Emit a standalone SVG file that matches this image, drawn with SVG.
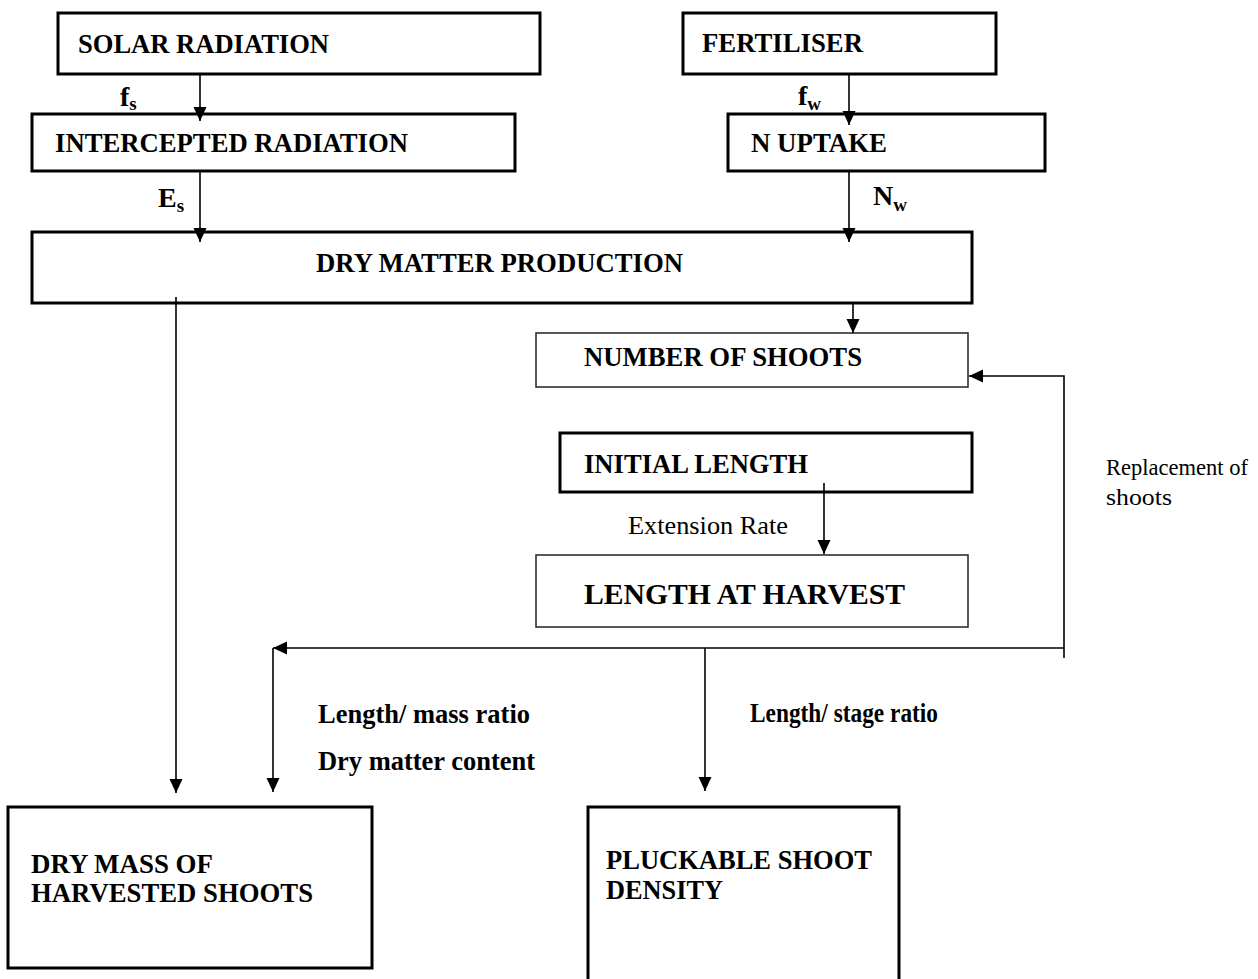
<svg xmlns="http://www.w3.org/2000/svg" width="1258" height="979" viewBox="0 0 1258 979">
<defs>
<marker id="ah" markerUnits="userSpaceOnUse" markerWidth="14" markerHeight="16" refX="14" refY="6.5" orient="auto">
<path d="M0,0 L14,6.5 L0,13 Z" fill="#000"/>
</marker>
<style>
.box{fill:#fff;stroke:#000;stroke-width:3}
.thin{fill:#fff;stroke:#222;stroke-width:1.5}
.t{font-family:"Liberation Serif","Times New Roman",serif;font-weight:bold;font-size:28px;fill:#000}
.l{font-family:"Liberation Serif","Times New Roman",serif;font-weight:bold;font-size:27px;fill:#000}
.r{font-family:"Liberation Serif","Times New Roman",serif;font-size:26px;fill:#000}
.sub{font-size:19px}
.c{fill:none;stroke:#000;stroke-width:1.6}
</style>
</defs>
<rect width="1258" height="979" fill="#fff"/>
<g id="solar"><rect class="box" x="58" y="13" width="482" height="61"/><text class="t" x="78" y="53" textLength="251" lengthAdjust="spacingAndGlyphs">SOLAR RADIATION</text></g>
<g id="intercepted"><rect class="box" x="32" y="114" width="483" height="57"/><text class="t" x="55" y="152" textLength="353" lengthAdjust="spacingAndGlyphs">INTERCEPTED RADIATION</text></g>
<g id="fertiliser"><rect class="box" x="683" y="13" width="313" height="61"/><text class="t" x="702" y="52" textLength="161" lengthAdjust="spacingAndGlyphs">FERTILISER</text></g>
<g id="nuptake"><rect class="box" x="728" y="114" width="317" height="57"/><text class="t" x="751" y="152" textLength="136" lengthAdjust="spacingAndGlyphs">N UPTAKE</text></g>
<g id="dmp"><rect class="box" x="32" y="232" width="940" height="71"/><text class="t" x="316" y="272" textLength="367" lengthAdjust="spacingAndGlyphs">DRY MATTER PRODUCTION</text></g>
<g id="shoots"><rect class="thin" x="536" y="333" width="432" height="54"/><text class="t" x="584" y="366" textLength="278" lengthAdjust="spacingAndGlyphs">NUMBER OF SHOOTS</text></g>
<g id="initial"><rect class="box" x="560" y="433" width="412" height="59"/><text class="t" x="584" y="473" textLength="224" lengthAdjust="spacingAndGlyphs">INITIAL LENGTH</text></g>
<g id="harvest"><rect class="thin" x="536" y="555" width="432" height="72"/><text class="t" x="584" y="604" style="font-size:29px" textLength="321" lengthAdjust="spacingAndGlyphs">LENGTH AT HARVEST</text></g>
<g id="drymass"><rect class="box" x="8" y="807" width="364" height="161"/><text class="t" x="31" y="873" textLength="182" lengthAdjust="spacingAndGlyphs">DRY MASS OF</text><text class="t" x="31" y="902" textLength="282" lengthAdjust="spacingAndGlyphs">HARVESTED SHOOTS</text></g>
<g id="pluckable"><rect class="box" x="588" y="807" width="311" height="190"/><text class="t" x="606" y="869" textLength="266" lengthAdjust="spacingAndGlyphs">PLUCKABLE SHOOT</text><text class="t" x="606" y="899" textLength="117" lengthAdjust="spacingAndGlyphs">DENSITY</text></g>
<g id="connectors">
<line class="c" x1="200" y1="74" x2="200" y2="121" marker-end="url(#ah)"/>
<line class="c" x1="200" y1="171" x2="200" y2="242" marker-end="url(#ah)"/>
<line class="c" x1="849" y1="74" x2="849" y2="125" marker-end="url(#ah)"/>
<line class="c" x1="849" y1="171" x2="849" y2="242" marker-end="url(#ah)"/>
<line class="c" x1="853" y1="303" x2="853" y2="333" marker-end="url(#ah)"/>
<line class="c" x1="176" y1="297" x2="176" y2="793" stroke-width="1.2" marker-end="url(#ah)"/>
<line class="c" x1="824" y1="483" x2="824" y2="554" marker-end="url(#ah)"/>
<polyline class="c" points="1064,658 1064,376 969,376" marker-end="url(#ah)"/>
<line class="c" x1="1064" y1="648" x2="273" y2="648" marker-end="url(#ah)"/>
<line class="c" x1="273" y1="648" x2="273" y2="792" stroke-width="2" marker-end="url(#ah)"/>
<line class="c" x1="705" y1="648" x2="705" y2="791" stroke-width="2" marker-end="url(#ah)"/>
</g>
<g id="labels">
<text class="t" x="120" y="106">f<tspan class="sub" dy="4">s</tspan></text>
<text class="t" x="158" y="207">E<tspan class="sub" dy="5">s</tspan></text>
<text class="t" x="798" y="105">f<tspan class="sub" dy="5">w</tspan></text>
<text class="t" x="873" y="205">N<tspan class="sub" dy="6">w</tspan></text>
<text class="r" x="628" y="534" textLength="160" lengthAdjust="spacingAndGlyphs">Extension Rate</text>
<text class="r" x="1106" y="475" style="font-size:23px" textLength="142" lengthAdjust="spacingAndGlyphs">Replacement of</text>
<text class="r" x="1106" y="505" style="font-size:23px" textLength="66" lengthAdjust="spacingAndGlyphs">shoots</text>
<text class="l" x="318" y="723" textLength="212" lengthAdjust="spacingAndGlyphs">Length/ mass ratio</text>
<text class="l" x="318" y="770" textLength="217" lengthAdjust="spacingAndGlyphs">Dry matter content</text>
<text class="l" x="750" y="722" textLength="188" lengthAdjust="spacingAndGlyphs">Length/ stage ratio</text>
</g>
</svg>
